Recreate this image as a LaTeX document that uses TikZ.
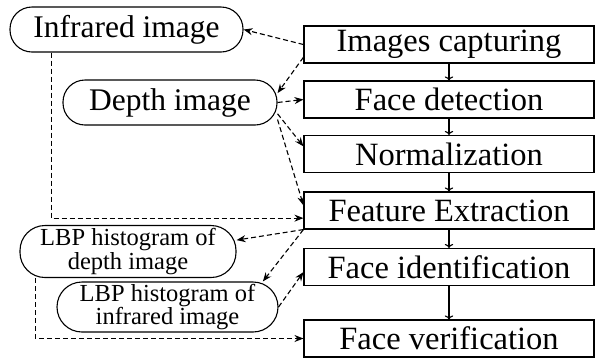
\documentclass[tikz,border=0pt]{standalone}
\usepackage{fontspec}
\setmainfont{Liberation Serif}
\usepackage{tikz}
\usetikzlibrary{arrows.meta}

\begin{document}
\begin{tikzpicture}[
    x = 1pt, y = -1pt,
    line width = 1.1pt,
    stage/.style = {draw,
      font = \fontsize{32.5}{32.5}\selectfont,
      minimum width = {290pt},
      minimum height = {37pt},
      inner sep = 0pt},
    image/.style = {draw, rectangle,
      rounded corners = {22pt},
      font = \fontsize{31.5}{31.5}\selectfont,
      minimum height = {45pt},
      inner sep = 0pt},
    histogram/.style = {minimum height = {52pt},
      rounded corners = {25pt},
      align = center,
      font = \fontsize{24.5}{20}\selectfont},
    flow/.style = {dashed, dash pattern = on 5pt off 3pt,
      -{Stealth[length = 9pt, width = 7pt]}},
    ]

    \useasboundingbox (0, 0) rectangle (596, 360);

    \node at (449, 44.5) [stage, name = cap] {Images capturing};
    \node at (449, 99.5) [stage, name = det] {Face detection};
    \node at (449, 154) [stage, name = nor] {Normalization};
    \node at (449, 210.5) [stage, name = fe] {Feature Extraction};
    \node at (449, 267) [stage, name = fi] {Face identification};
    \node at (449, 338.5) [stage, name = fv] {Face verification};

    \node at (126.5, 29.5)
    [image, minimum width = {233pt}, name = ir] {Infrared image};
    \node at (170, 102.5)
    [image, minimum width = {214pt}, name = dep] {Depth image};

    \node at (128, 251.5)
    [image, histogram, minimum width = {216pt}, name = ld]
    {LBP histogram of\\depth image};
    \node at (167.5, 307)
    [image, histogram, minimum width = {221pt}, minimum height = {50pt},
      name = li] {LBP histogram of\\infrared image};

    \draw [->] (cap) -- (det);
    \draw [->] (det) -- (nor);
    \draw [->] (nor) -- (fe);
    \draw [->] (fe) -- (fi);
    \draw [->] (fi) -- (fv);

    \draw [flow] (cap.west) to (ir.east);
    \draw [flow] (cap.185) to (dep.5);
    \draw [flow] (dep.east) to (det.west);
    \draw [flow] (dep.-6) to (nor.177);
    \draw [flow] (dep.-9) to (fe.178);
    \draw [flow] (ir.197) |- (fe.183);

    \draw [flow] (fe.south west) to (ld.6);
    \draw [flow] (fe.south west) to (li.15);
    \draw [flow] (li.east) to (fi.182);
    \draw [flow] (ld.196) |- (fv.west);
  \end{tikzpicture}
\end{document}
